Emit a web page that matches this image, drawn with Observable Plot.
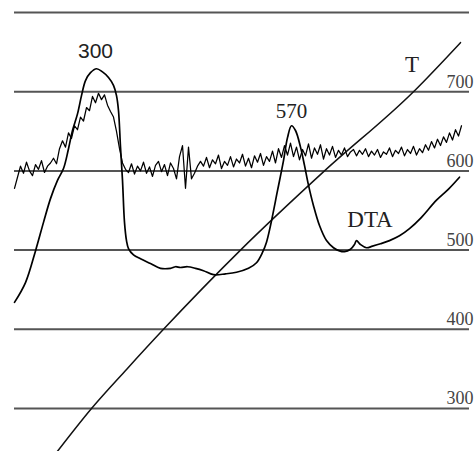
<!DOCTYPE html>
<html>
<head>
<meta charset="utf-8">
<script src="https://cdn.jsdelivr.net/npm/d3@7"></script>
<script src="https://cdn.jsdelivr.net/npm/@observablehq/plot@0.6"></script>
<style>
  html, body { margin: 0; padding: 0; background: #fff; }
  #chart svg { display: block; background: #fff; }
</style>
</head>
<body>
<div id="chart"></div>
<script>
// Time axis (arbitrary minutes) and temperature axis (°C)
const gridTemps = [300, 400, 500, 600, 700, 800];
const tempLabels = [300, 400, 500, 600, 700];

// Temperature ramp T (time, °C)
const tTime = [8.6, 15.4, 22.5, 29.8, 45.2, 62.0, 79.8, 89.2];
const tTemp = [246, 300, 350, 400, 500, 600, 700, 762];

// DTA curve (time, signal in temperature-axis units)
const dtaTime = [0, 2.2, 4.2, 5.8, 7.2, 8.6, 9.8, 10.8, 11.6, 12.6, 13.4, 14.2, 15.2, 16.4, 17.6, 18.8, 19.8, 20.4, 20.8, 21.2, 21.6, 22.0, 22.4, 22.8, 23.8, 25.2, 27.2, 29.2, 31.2, 32.2, 33.2, 34.6, 36.2, 37.8, 39.8, 42.2, 44.4, 46.8, 48.4, 49.6, 50.4, 51.2, 52.6, 53.8, 54.6, 55.4, 56.2, 57.2, 58.0, 58.8, 59.8, 61.0, 62.4, 63.8, 65.0, 66.0, 67.2, 68.0, 68.4, 69.2, 70.4, 71.6, 73.2, 75.0, 77.0, 79.0, 81.2, 84.4, 86.8, 89.0];
const dtaValue = [434, 459, 499, 535, 565, 588, 603, 628, 651, 672, 695, 714, 724, 729, 725, 718, 708, 695, 676, 630, 588, 535, 512, 502, 494, 489, 483, 477, 477, 479, 478, 479, 477, 474, 469, 470, 472, 477, 484, 497, 510, 531, 575, 613, 642, 657, 651, 630, 607, 582, 556, 531, 512, 503, 499, 498, 501, 507, 512, 507, 503, 505, 508, 512, 518, 527, 540, 563, 577, 592];

// Noisy signal, sampled every 0.6 min from time 0
const noiseStart = 0;
const noiseStep = 0.6;
const noiseValue = [
  578, 592, 606, 597, 611, 600, 594, 608, 602, 613, 598, 606, 610,
  616, 609, 628,
  638, 630, 648, 641, 657, 652, 668, 663, 680, 676,
  694, 686, 698, 690, 696, 683,
  675, 668, 650, 628, 610, 602,
  598, 609, 596, 606, 600, 611, 597, 605, 593, 607, 612, 599, 608, 594, 610, 603, 590, 618, 632, 578, 630, 590, 597, 606, 612,
  606, 617, 604, 614, 609, 620, 603, 612, 607, 618, 605, 615, 610, 621, 606, 616, 604, 619, 611, 622, 607, 618, 612,
  625, 610, 628, 617, 632, 620, 635, 618, 630, 614, 627, 619, 634, 616, 629, 621, 633, 615, 628, 620, 631, 617, 626, 620, 629, 618, 624,
  627, 619, 626, 621, 628, 618, 625, 620, 627, 617, 624, 621, 629, 618, 626, 622, 630, 619, 627, 622, 631, 620, 628,
  623, 633, 626, 637, 629, 640, 632, 643, 636, 648, 639, 652, 644, 657
];

// Annotations
const annText = ["300", "570", "DTA", "T"];
const annTime = [16.2, 55.4, 71.1, 79.5];
const annValue = [743, 667, 529, 725];

const tData = tTime.map((t, i) => ({t, v: tTemp[i]}));
const dtaData = dtaTime.map((t, i) => ({t, v: dtaValue[i]}));
const noiseData = noiseValue.map((v, i) => ({t: noiseStart + i * noiseStep, v}));
const annData = annText.map((s, i) => ({s, t: annTime[i], v: annValue[i]}));

const chart = Plot.plot({
  width: 476,
  height: 451,
  marginLeft: 14,
  marginRight: 7,
  marginTop: 12,
  marginBottom: 0,
  x: {domain: [0, 91], axis: null},
  y: {domain: [245.7, 800], axis: null},
  style: {background: "#fff"},
  marks: [
    Plot.ruleY(gridTemps, {stroke: "#555", strokeWidth: 2}),
    Plot.text(tempLabels, {
      y: d => d, text: d => String(d), frameAnchor: "right", textAnchor: "end",
      lineAnchor: "bottom", dx: 4, dy: -4, fontSize: 18,
      fontFamily: "Liberation Serif", fill: "#444"
    }),
    Plot.line(noiseData, {x: "t", y: "v", stroke: "#000", strokeWidth: 1.25}),
    Plot.line(tData, {x: "t", y: "v", stroke: "#111", strokeWidth: 1.5, curve: "monotone-x"}),
    Plot.line(dtaData, {x: "t", y: "v", stroke: "#000", strokeWidth: 1.7, curve: "catmull-rom"}),
    Plot.text(annData.filter(d => d.s === "300"), {
      x: "t", y: "v", text: "s", lineAnchor: "bottom", fontSize: 21,
      fontFamily: "Liberation Sans", fill: "#222"
    }),
    Plot.text(annData.filter(d => d.s !== "300"), {
      x: "t", y: "v", text: "s", lineAnchor: "bottom", fontSize: d => d.s === "570" ? 21 : 23,
      fontFamily: "Liberation Serif", fill: "#222"
    })
  ]
});
document.getElementById("chart").appendChild(chart);
</script>
</body>
</html>
